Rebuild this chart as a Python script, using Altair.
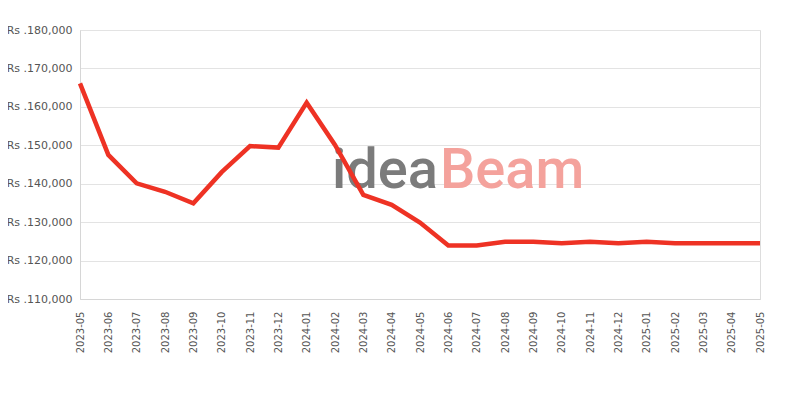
import altair as alt
import pandas as pd

months = ["2023-05", "2023-06", "2023-07", "2023-08", "2023-09", "2023-10", "2023-11",
          "2023-12", "2024-01", "2024-02", "2024-03", "2024-04", "2024-05", "2024-06",
          "2024-07", "2024-08", "2024-09", "2024-10", "2024-11", "2024-12", "2025-01",
          "2025-02", "2025-03", "2025-04", "2025-05"]
prices = [166100, 147500, 140100, 137900, 134900, 143000, 149800,
          149400, 161100, 150100, 137100, 134500, 129900, 123900,
          123900, 124900, 124900, 124500, 124900, 124500, 124900,
          124500, 124500, 124500, 124500]
y_ticks = [110000, 120000, 130000, 140000, 150000, 160000, 170000, 180000]

df = pd.DataFrame({"month": months, "price": prices})

font = "DejaVu Sans"

x_enc = alt.X("month:O", sort=None,
              scale=alt.Scale(type="point", padding=0),
              axis=alt.Axis(title=None, labelAngle=-90, labelFontSize=10, labelFont=font,
                            labelColor="#555555", ticks=False, labelPadding=12,
                            domain=True, domainColor="#d6d6d6", grid=False))
y_enc = alt.Y("price:Q",
              scale=alt.Scale(domain=[110000, 180000], nice=False, zero=False),
              axis=alt.Axis(title=None, values=y_ticks,
                            labelExpr="'Rs .' + format(datum.value, ',')",
                            labelFontSize=11, labelFont=font, labelColor="#555555",
                            ticks=False, labelPadding=8, domainColor="#d6d6d6",
                            gridColor="#e3e3e3"))

wm_idea = alt.Chart(df).mark_text(text="idea", font="Roboto", fontSize=56, fontWeight=500,
                                  align="left", baseline="alphabetic", color="#7b7b7b").encode(
    x=alt.value(252), y=alt.value(158))
wm_beam = alt.Chart(df).mark_text(text="Beam", font="Roboto", fontSize=56, fontWeight=500,
                                  align="left", baseline="alphabetic", color="#f4a29c").encode(
    x=alt.value(360), y=alt.value(158))

line = alt.Chart(df).mark_line(color="#ee3224", strokeWidth=4.5, strokeJoin="miter").encode(
    x=x_enc, y=y_enc)

chart = alt.layer(wm_idea.transform_filter("datum.month == '2023-05'"),
                  wm_beam.transform_filter("datum.month == '2023-05'"),
                  line).properties(
    width=680, height=269,
    autosize=alt.AutoSizeParams(type="none"),
    padding={"left": 72, "top": 22, "right": 32, "bottom": 100},
).configure_view(stroke="#dcdcdc", strokeWidth=1).configure(background="white")

chart.save("out.html", embed_options={"renderer": "svg", "actions": False})
